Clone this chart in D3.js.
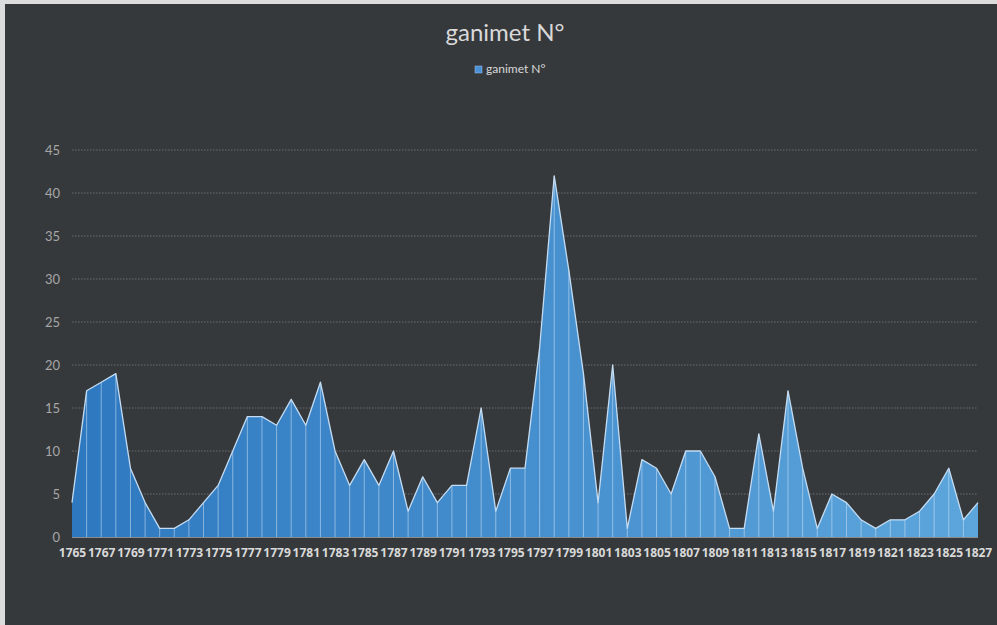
<!DOCTYPE html>
<html>
<head>
<meta charset="utf-8">
<script src="https://cdn.jsdelivr.net/npm/d3@7"></script>
<style>
html,body{margin:0;padding:0;background:#dcdcdc;}
svg{display:block;}
</style>
</head>
<body>
<svg id="chart" width="997" height="625"></svg>
<script>
const title = "ganimet N°";
const seriesName = "ganimet N°";
const years = d3.range(1765, 1828);
const values = [4,17,18,19,8,4,1,1,2,4,6,10,14,14,13,16,13,18,10,6,
                9,6,10,3,7,4,6,6,15,3,8,8,22,42,31,19,4,20,1,9,
                8,5,10,10,7,1,1,12,3,17,8,1,5,4,2,1,2,2,3,5,
                8,2,4];
const yTicks = [0,5,10,15,20,25,30,35,40,45];
const xLabels = years.filter((d,i)=>i%2===0);

(function(){
const data = years.map((yr,i)=>({year:yr, value:values[i]}));

const svg = d3.select("#chart");
svg.append("rect").attr("x",5).attr("y",4).attr("width",992).attr("height",621).attr("fill","#36393c");

const pL=72, pR=978, pT=150, pB=537;
const x = d3.scalePoint().domain(years).range([pL,pR]);
const y = d3.scaleLinear().domain([0,45]).range([pB,pT]);

const defs = svg.append("defs");
const grad = defs.append("linearGradient").attr("id","fillGrad")
  .attr("gradientUnits","userSpaceOnUse").attr("x1",pL).attr("x2",pR).attr("y1",0).attr("y2",0);
grad.append("stop").attr("offset","0%").attr("stop-color","#2e78c0");
grad.append("stop").attr("offset","100%").attr("stop-color","#5da6dc");

svg.append("g").selectAll("line").data(yTicks.filter(d=>d>0)).join("line")
  .attr("x1",pL).attr("x2",pR).attr("y1",d=>y(d)).attr("y2",d=>y(d))
  .attr("stroke","#6b6e71").attr("stroke-width",1).attr("stroke-dasharray","1.5,1.5");

const yAxis = d3.axisLeft(y).tickValues(yTicks).tickSize(0).tickPadding(0);
const gy = svg.append("g").attr("transform",`translate(${pL-12},0)`).call(yAxis);
gy.select(".domain").remove();
gy.selectAll("text").attr("fill","#a6a6a6").style("font-family","Lato, 'Open Sans', sans-serif").style("font-size","13px");

const area = d3.area().x(d=>x(d.year)).y0(pB).y1(d=>y(d.value));
svg.append("path").datum(data).attr("d",area).attr("fill","url(#fillGrad)");

svg.append("g").selectAll("line").data(data.slice(1,-1)).join("line")
  .attr("x1",d=>x(d.year)).attr("x2",d=>x(d.year)).attr("y1",pB).attr("y2",d=>y(d.value))
  .attr("stroke","rgba(220,235,250,0.5)").attr("stroke-width",1);

const line = d3.line().x(d=>x(d.year)).y(d=>y(d.value));
svg.append("path").datum(data).attr("d",line).attr("fill","none")
  .attr("stroke","#c4dcf2").attr("stroke-width",1.3).attr("stroke-linejoin","round");

svg.append("line").attr("x1",pL).attr("x2",pR).attr("y1",pB+0.5).attr("y2",pB+0.5)
  .attr("stroke","#8a8d90").attr("stroke-width",1.2);

const xAxis = d3.axisBottom(x).tickValues(xLabels).tickSize(0).tickPadding(11).tickFormat(d=>d);
const gx = svg.append("g").attr("transform",`translate(0,${pB})`).call(xAxis);
gx.select(".domain").remove();
gx.selectAll("text").attr("fill","#d9d9d9").style("font-family","'Open Sans', 'Liberation Sans', Arial, sans-serif")
  .style("font-weight","bold").style("font-size","12px");

svg.append("text").attr("x",505).attr("y",41).attr("text-anchor","middle")
  .attr("fill","#d9d9d9").style("font-family","Lato, 'Open Sans', sans-serif").style("font-size","24px")
  .text(title);

svg.append("rect").attr("x",475).attr("y",66).attr("width",7).attr("height",7).attr("fill","#4a90d6").attr("stroke","#9cc4ea").attr("stroke-width",0.5);
svg.append("text").attr("x",486).attr("y",73).attr("fill","#d9d9d9")
  .style("font-family","Lato, 'Open Sans', sans-serif").style("font-size","12px").text(seriesName);
})();
</script>
</body>
</html>
